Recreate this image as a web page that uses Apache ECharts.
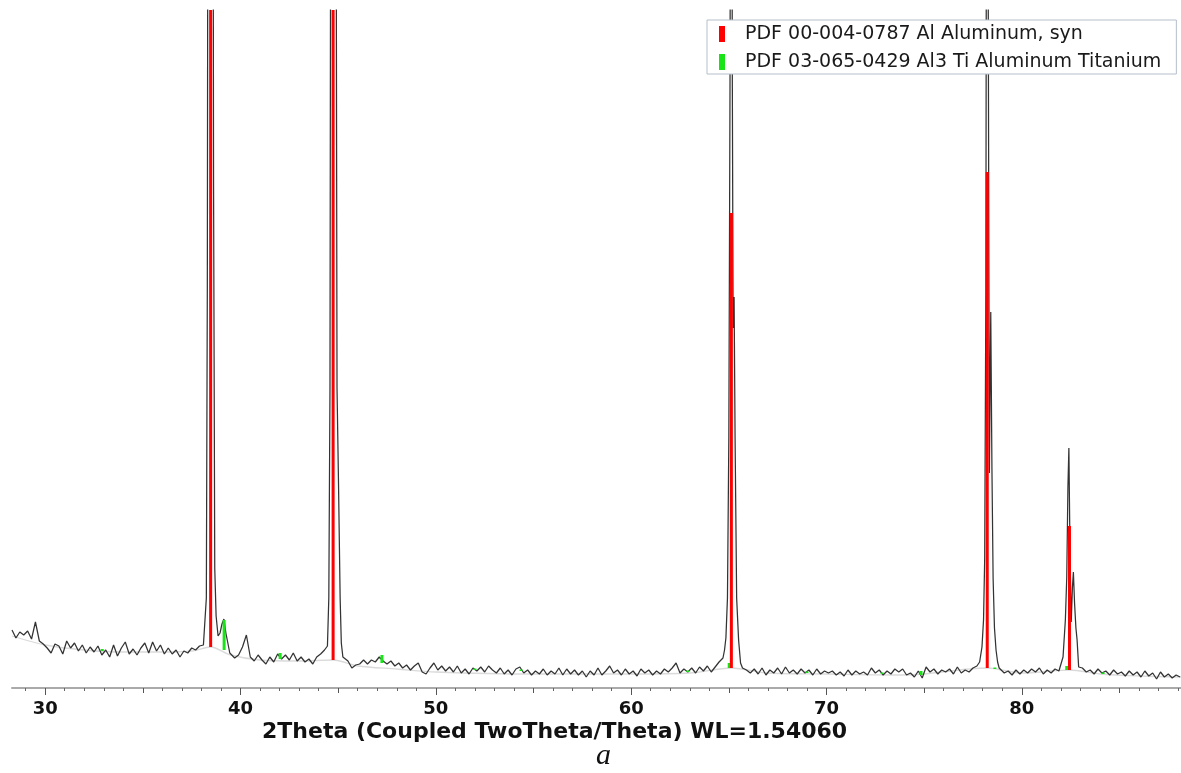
<!DOCTYPE html>
<html>
<head>
<meta charset="utf-8">
<script src="https://cdn.jsdelivr.net/npm/echarts@6/dist/echarts.min.js"></script>
<style>
html,body{margin:0;padding:0;background:#fff;}
#chart{width:1181px;height:773px;}
</style>
</head>
<body>
<div id="chart"></div>
<script>
// ---- measured pattern: 2Theta grid (start, step) and counts ----
const thetaStart = 28.3;
const thetaStep = 0.2;
// background counts on the 0.2 deg grid; null where a peak profile below replaces them
const counts = [
  58, 50, 56, 53, 57, 49, 66, 47, 44, 40,
  35, 44, 42, 34, 47, 40, 45, 37, 43, 35,
  41, 36, 42, 33, 38, 31, 43, 32, 40, 46,
  34, 39, 33, 40, 45, 35, 46, 37, 43, 34,
  40, 34, 38, 31, 37, 35, 40, 38, 42, 43,
  null, null, null, null, null, null, 34, 30, 33, 41,
  53, 31, 27, 33, 28, 24, 31, 26, 34, 29,
  33, 28, 35, 27, 31, 26, 29, 24, 31, 34,
  38, null, null, null, null, 30, 27, 20, 23, 24,
  28, 24, 28, 26, 31, 27, 24, 27, 22, 25,
  20, 23, 18, 22, 25, 16, 14, 20, 25, 18,
  22, 17, 21, 16, 22, 15, 19, 14, 20, 17,
  21, 16, 22, 18, 15, 20, 14, 18, 13, 19,
  21, 15, 18, 13, 17, 14, 19, 13, 17, 14,
  20, 13, 19, 14, 18, 13, 17, 11, 17, 13,
  20, 13, 17, 22, 15, 18, 13, 19, 14, 17,
  12, 19, 15, 18, 13, 17, 14, 19, 16, 20,
  25, 15, 19, 16, 20, 15, 21, 17, 22, 16,
  21, 26, null, null, null, null, null, null, 18, 15,
  19, 14, 20, 13, 18, 15, 20, 14, 21, 15,
  18, 14, 19, 15, 18, 13, 19, 14, 17, 15,
  17, 13, 16, 12, 18, 13, 17, 14, 16, 13,
  20, 15, 18, 13, 17, 14, 19, 16, 19, 13,
  15, 11, 17, 10, 21, 16, 19, 14, 18, 16,
  19, 14, 21, 15, 18, 16, 20, 22, null, null,
  null, null, null, 20, 15, 17, 13, 18, 14, 18,
  15, 19, 16, 20, 14, 18, 15, 19, 17, null,
  null, null, null, null, 20, 16, 18, 14, 19, 15,
  17, 13, 18, 14, 16, 12, 17, 13, 16, 11,
  17, 12, 15, 9, 16, 11, 14, 10, 13, 11
];
// peak profiles [2Theta, counts]
const peak38 = [[38.15,43],[38.25,90],[38.3,400],[38.35,1200],[38.45,3000],[38.55,1500],[38.62,500],[38.68,120],[38.75,72],[38.85,52],[38.95,55],[39.05,64],[39.15,69],[39.25,55],[39.35,45],[39.45,35]];
const peak44 = [[44.45,42],[44.52,90],[44.58,300],[44.64,1200],[44.74,2800],[44.86,1200],[44.94,300],[45.02,200],[45.1,90],[45.16,45],[45.24,31]];
const peak65 = [[64.6,26],[64.7,30],[64.78,38],[64.85,50],[64.93,90],[65.0,250],[65.06,600],[65.12,1200],[65.18,600],[65.22,360],[65.27,391],[65.32,250],[65.4,90],[65.5,48],[65.6,25],[65.7,20]];
const peak78 = [[77.84,26],[77.96,41],[78.04,68],[78.1,130],[78.16,400],[78.22,1300],[78.28,700],[78.34,215],[78.41,376],[78.47,220],[78.53,110],[78.6,60],[78.68,38],[78.76,26],[78.84,20]];
const peak82 = [[82.11,31],[82.23,68],[82.3,110],[82.36,200],[82.41,240],[82.47,130],[82.53,66],[82.59,100],[82.64,116],[82.7,85],[82.77,60],[82.83,48],[82.91,21]];
// fitted background line [2Theta, counts]
const background = [[28.3,52],[30,43],[32,38],[34,36],[36,36],[37.5,37],[38.47,41],[39.5,33],[41,28],[43,27],[44.74,28],[46,22],[48,19],[50,16],[55,14],[60,14],[63,15],[65.13,20],[67,15],[70,14],[74,13],[78.23,20],[80,15],[82.44,18],[84,14],[86,12],[88.15,11]];
// reference sticks [2Theta, base, top]
const alName = 'PDF 00-004-0787 Al Aluminum, syn';
const alSticks = [[38.47,41,1600],[44.74,28,1600],[65.13,20,475],[78.23,20,516],[82.44,18,162]];
const al3tiName = 'PDF 03-065-0429 Al3 Ti Aluminum Titanium';
const al3tiSticks = [[32.92,37,39],[39.16,38,68],[42.03,29,35],[47.24,25,33],[52.0,18,19.5],[54.36,17,18.5],[62.9,16,17.5],[65.02,20,25],[69.0,15,16.5],[72.85,14,15.5],[74.84,13,17],[78.62,19,20.5],[82.3,18,22],[84.16,14,15.5]];
// axis ticks and labels
const labelTicks = [30, 40, 50, 60, 70, 80];
const midTicks = [35, 45, 55, 65, 75, 85];
const minorTicks = [29,31,32,33,34,36,37,38,39,41,42,43,44,46,47,48,49,51,52,53,54,56,57,58,59,61,62,63,64,66,67,68,69,71,72,73,74,76,77,78,79,81,82,83,84,86,87,88];
const xTitle = '2Theta (Coupled TwoTheta/Theta) WL=1.54060';
const caption = 'a';

// ---- build the trace ----
const trace = [];
counts.forEach((v, i) => { if (v !== null) trace.push([+(thetaStart + i * thetaStep).toFixed(2), v]); });
[peak38, peak44, peak65, peak78, peak82].forEach(p => p.forEach(d => trace.push(d)));
trace.sort((a, b) => a[0] - b[0]);

function stickRenderer(color) {
  return function (params, api) {
    const x = api.value(0), b = api.value(1), t = api.value(2);
    const p0 = api.coord([x, b]);
    const p1 = api.coord([x, t]);
    const top = Math.max(p1[1], params.coordSys.y);
    return { type: 'rect', shape: { x: p0[0] - 1.5, y: top, width: 3, height: Math.max(p0[1] - top, 1.5) }, style: { fill: color } };
  };
}

const X_MIN = 28.3, X_MAX = 88.15;
const chart = echarts.init(document.getElementById('chart'), null, { renderer: 'canvas' });
const baseAxis = { type: 'value', min: X_MIN, max: X_MAX, gridIndex: 0, position: 'bottom', splitLine: { show: false } };
chart.setOption({
  animation: false,
  backgroundColor: '#ffffff',
  grid: { left: 12, right: 0, top: 10, bottom: 85 },
  xAxis: [
    Object.assign({}, baseAxis, {
      axisLine: { show: true, lineStyle: { color: '#aaaaaa', width: 2 } },
      axisTick: { show: true, length: 7, customValues: labelTicks, lineStyle: { color: '#555555', width: 1 } },
      axisLabel: { show: true, customValues: labelTicks, margin: 12, fontFamily: 'DejaVu Sans', fontWeight: 'bold', fontSize: 18, color: '#111111' }
    }),
    Object.assign({}, baseAxis, {
      axisLine: { show: false },
      axisTick: { show: true, length: 5, customValues: midTicks, lineStyle: { color: '#555555', width: 1 } },
      axisLabel: { show: false }
    }),
    Object.assign({}, baseAxis, {
      axisLine: { show: false },
      axisTick: { show: true, length: 3, customValues: minorTicks, lineStyle: { color: '#666666', width: 1 } },
      axisLabel: { show: false }
    })
  ],
  yAxis: { type: 'value', min: 0, max: 678, show: false, splitLine: { show: false } },
  legend: {
    orient: 'vertical', left: 707, top: 20,
    padding: [4, 15, 2, 12],
    itemWidth: 6, itemHeight: 16, itemGap: 8,
    backgroundColor: '#ffffff', borderColor: '#b4bfcc', borderWidth: 1,
    selectedMode: false,
    textStyle: { fontFamily: 'DejaVu Sans', fontSize: 19, color: '#1a1a1a', lineHeight: 20, padding: [0, 0, 0, 15] },
    data: [
      { name: alName, icon: 'rect', itemStyle: { color: '#ff0000' } },
      { name: al3tiName, icon: 'rect', itemStyle: { color: '#18e418' } }
    ]
  },
  series: [
    { name: 'background', type: 'line', data: background, showSymbol: false, smooth: 0.3, clip: true, z: 1,
      lineStyle: { color: '#dadada', width: 1.3 }, silent: true },
    { name: 'measured', type: 'line', data: trace, showSymbol: false, clip: true, z: 2,
      lineStyle: { color: '#333333', width: 1.25 }, silent: true },
    { name: al3tiName, type: 'custom', data: al3tiSticks, encode: { x: 0, y: [1, 2] }, z: 3,
      itemStyle: { color: '#18e418' }, renderItem: stickRenderer('#18e418') },
    { name: alName, type: 'custom', data: alSticks, encode: { x: 0, y: [1, 2] }, z: 4,
      itemStyle: { color: '#ff0000' }, renderItem: stickRenderer('#ff0000') }
  ],
  graphic: [
    { type: 'text', left: 262, top: 721, style: { text: xTitle, font: 'bold 22px "DejaVu Sans"', fill: '#111111' } },
    { type: 'text', left: 596, top: 741, style: { text: caption, font: 'italic 30px "Liberation Serif"', fill: '#111111' } }
  ]
});
</script>
</body>
</html>
